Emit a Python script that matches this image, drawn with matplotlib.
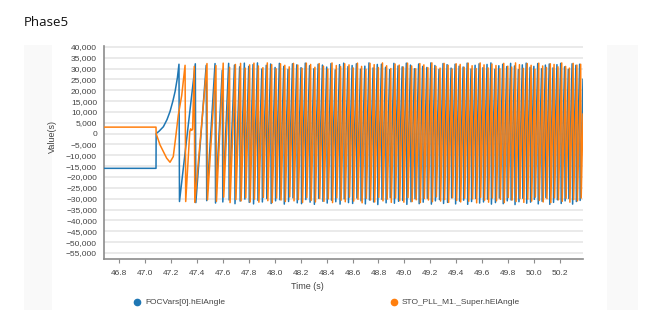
import matplotlib
matplotlib.use('Agg')
import matplotlib.pyplot as plt
from matplotlib.patches import Rectangle
from matplotlib.lines import Line2D
from matplotlib.ticker import FuncFormatter, MultipleLocator

# --- data (values in angle units, times in s) ---
series_names = ['FOCVars[0].hElAngle', 'STO_PLL_M1._Super.hElAngle']

# start-up part before the sawtooth settles
blue_start_t = [46.684, 47.085, 47.086, 47.110, 47.142, 47.170, 47.193, 47.215, 47.232, 47.250]
blue_start_v = [-16000, -16000, 0, 1200, 3200, 6500, 10200, 15000, 19400, 25800]
orange_start_t = [46.684, 47.085, 47.086, 47.116, 47.167, 47.193, 47.218, 47.235, 47.257, 47.283,
                  47.309, 47.314, 47.345, 47.352, 47.360, 47.367]
orange_start_v = [3000, 3000, 0, -5200, -11300, -13200, -10600, -2500, 8600, 17500,
                  31500, -31300, 800, 2200, 1500, 2000]

# wrap times (peak -> trough) of the electrical angle
blue_wrap_t = [
    47.262, 47.388, 47.472, 47.540, 47.596, 47.645, 47.690, 47.730, 47.766, 47.800,
    47.833, 47.867, 47.901, 47.935, 47.969, 48.003, 48.036, 48.070, 48.103, 48.137,
    48.170, 48.203, 48.236, 48.269, 48.302, 48.335, 48.368, 48.401, 48.434, 48.467,
    48.500, 48.532, 48.565, 48.597, 48.630, 48.662, 48.695, 48.727, 48.759, 48.791,
    48.823, 48.855, 48.887, 48.919, 48.951, 48.983, 49.015, 49.047, 49.078, 49.110,
    49.141, 49.173, 49.204, 49.235, 49.267, 49.298, 49.329, 49.360, 49.391, 49.422,
    49.453, 49.484, 49.514, 49.545, 49.576, 49.606, 49.637, 49.667, 49.698, 49.728,
    49.758, 49.789, 49.819, 49.849, 49.879, 49.909, 49.939, 49.969, 49.998, 50.028,
    50.058, 50.087, 50.117, 50.146, 50.176, 50.205, 50.235, 50.264, 50.293, 50.322,
    50.351]
blue_peak_k = [
    32.0, 32.2, 31.5, 32.3, 29.2, 32.4, 31.6, 30.8, 32.5, 31.0,
    31.8, 32.6, 29.8, 31.5, 32.1, 30.5, 32.4, 31.0, 29.6, 32.2,
    31.7, 30.4, 32.5, 31.3, 29.9, 32.0, 31.6, 30.7, 32.3, 29.4,
    31.8, 32.5, 30.9, 31.4, 32.2, 29.7, 31.1, 32.6, 30.3, 31.9,
    32.0, 30.6, 29.5, 32.4, 31.2, 30.8, 32.5, 31.6, 29.9, 32.1,
    31.0, 30.5, 32.6, 31.4, 29.6, 32.3, 31.8, 30.2, 32.0, 31.1,
    30.7, 32.5, 29.8, 31.5, 32.2, 30.4, 31.9, 32.6, 29.7, 31.3,
    32.0, 30.9, 32.4, 31.2, 29.5, 31.7, 32.5, 30.6, 31.0, 32.3,
    29.9, 31.6, 32.1, 30.3, 31.8, 32.4, 30.8, 29.6, 32.2, 31.5,
    32.0]
blue_trough_k = [
    -31.3, -31.8, -30.9, -32.0, -31.5, -30.6, -32.3, -31.1, -30.2, -31.7,
    -32.4, -30.8, -31.5, -29.9, -32.2, -31.0, -30.5, -32.5, -31.3, -29.6,
    -31.9, -32.3, -30.4, -31.6, -32.6, -29.8, -31.2, -32.0, -30.7, -31.4,
    -32.5, -30.1, -31.8, -32.2, -29.7, -31.0, -32.4, -30.6, -31.5, -32.7,
    -30.3, -31.9, -29.5, -32.1, -31.2, -30.8, -32.6, -31.4, -30.0, -32.3,
    -31.6, -29.8, -32.5, -31.0, -30.4, -32.2, -31.7, -29.6, -32.4, -31.1,
    -30.7, -32.6, -31.3, -29.9, -32.0, -31.5, -30.2, -32.5, -31.8, -29.7,
    -32.3, -31.0, -30.6, -32.7, -31.4, -29.8, -32.1, -31.6, -30.3, -32.4,
    -31.2, -29.5, -32.6, -31.7, -30.5, -32.2, -31.0, -29.9, -32.5, -31.3,
    -30.8]

orange_wrap_t = [
    47.380, 47.478, 47.547, 47.603, 47.652, 47.697, 47.737, 47.773, 47.807,
    47.840, 47.874, 47.909, 47.943, 47.977, 48.011, 48.045, 48.078, 48.112, 48.145,
    48.178, 48.211, 48.244, 48.277, 48.310, 48.343, 48.376, 48.409, 48.442, 48.475,
    48.508, 48.540, 48.573, 48.605, 48.638, 48.670, 48.703, 48.735, 48.767, 48.799,
    48.831, 48.863, 48.895, 48.928, 48.960, 48.992, 49.024, 49.056, 49.087, 49.119,
    49.150, 49.181, 49.212, 49.243, 49.275, 49.306, 49.337, 49.368, 49.399, 49.430,
    49.461, 49.492, 49.522, 49.553, 49.584, 49.614, 49.645, 49.675, 49.706, 49.736,
    49.766, 49.797, 49.827, 49.857, 49.887, 49.917, 49.947, 49.977, 50.006, 50.036,
    50.066, 50.095, 50.125, 50.154, 50.184, 50.213, 50.243, 50.272, 50.301, 50.330,
    50.359]
orange_peak_k = [
    31.0, 32.3, 31.4, 32.5, 30.6, 31.9, 32.4, 30.2, 31.7,
    32.5, 31.2, 30.4, 32.6, 31.8, 29.9, 32.2, 31.5, 30.8, 32.4,
    31.6, 30.1, 32.5, 31.9, 30.6, 32.3, 31.1, 29.8, 32.6, 31.4,
    30.9, 32.2, 31.7, 30.3, 32.5, 31.0, 29.7, 32.4, 31.8, 30.5,
    32.6, 31.3, 30.0, 32.1, 31.6, 30.7, 32.5, 31.2, 29.9, 32.3,
    31.7, 30.4, 32.6, 31.0, 30.2, 32.4, 31.5, 29.8, 32.2, 31.9,
    30.6, 32.5, 31.3, 30.0, 32.6, 31.7, 30.3, 32.1, 31.4, 29.9,
    32.4, 31.1, 30.7, 32.6, 31.8, 30.1, 32.3, 31.5, 29.7, 32.5,
    31.2, 30.5, 32.2, 31.9, 30.8, 32.6, 31.0, 30.2, 32.4, 31.6,
    32.0]
orange_trough_k = [
    -31.7, -30.5, -31.2, -29.3, -31.8, -30.4, -31.0, -29.6, -31.5,
    -30.2, -31.6, -29.4, -30.9, -31.8, -29.7, -30.6, -31.3, -29.2, -31.0,
    -30.4, -31.7, -29.5, -30.8, -31.5, -29.9, -31.2, -30.1, -31.8, -29.6,
    -30.7, -31.4, -29.3, -31.1, -30.3, -31.9, -29.8, -30.6, -31.5, -29.4,
    -31.0, -30.2, -31.7, -29.7, -30.9, -31.6, -29.5, -31.3, -30.5, -31.8,
    -29.9, -30.6, -31.4, -29.2, -31.1, -30.4, -31.7, -29.6, -30.8, -31.5,
    -29.8, -31.2, -30.1, -31.9, -29.4, -30.7, -31.6, -29.7, -31.0, -30.3,
    -31.8, -29.5, -30.6, -31.3, -29.9, -31.7, -30.2, -31.1, -29.3, -30.8,
    -31.5, -30.0, -31.8, -29.6, -30.5, -31.2, -29.8, -31.6, -30.4, -31.0,
    -29.7]

end_t = 50.377
blue_end_v = 25000
orange_end_v = 9000

x_ticks = [46.8, 47.0, 47.2, 47.4, 47.6, 47.8, 48.0, 48.2, 48.4, 48.6, 48.8,
           49.0, 49.2, 49.4, 49.6, 49.8, 50.0, 50.2]

BLUE = '#1f77b4'
ORANGE = '#ff7f0e'
DROP = 0.004  # one sample for the wrap


def build(start_t, start_v, wraps, peaks, troughs, last_v):
    t = list(start_t)
    v = list(start_v)
    for w, p, q in zip(wraps, peaks, troughs):
        t += [w, w + DROP]
        v += [p * 1000, q * 1000]
    t.append(end_t)
    v.append(last_v)
    return t, v


blue_t, blue_v = build(blue_start_t, blue_start_v, blue_wrap_t, blue_peak_k, blue_trough_k, blue_end_v)
orange_t, orange_v = build(orange_start_t, orange_start_v, orange_wrap_t, orange_peak_k, orange_trough_k, orange_end_v)

plt.rcParams['font.family'] = ['Liberation Sans', 'DejaVu Sans']

fig = plt.figure(figsize=(6.67, 3.2), dpi=100)
fig.patch.set_facecolor('white')

# faint side panels of the dashboard
fig.add_artist(Rectangle((24 / 667, 1 - 310 / 320), 28 / 667, 265 / 320,
                         transform=fig.transFigure, facecolor='#f9f9f9', edgecolor='none', zorder=0))
fig.add_artist(Rectangle((607 / 667, 1 - 310 / 320), 31 / 667, 265 / 320,
                         transform=fig.transFigure, facecolor='#f9f9f9', edgecolor='none', zorder=0))

fig.text(24 / 667, 1 - 22 / 320, 'Phase5', fontsize=9.5, family=['Open Sans', 'DejaVu Sans'],
         color='#111111', ha='left', va='center')

ax = fig.add_axes([104 / 667, 1 - 259 / 320, 479 / 667, 213 / 320])
ax.plot(blue_t, blue_v, color=BLUE, lw=1.1, zorder=3)
ax.plot(orange_t, orange_v, color=ORANGE, lw=1.1, zorder=4)

ax.set_xlim(46.684, 50.377)
ax.set_ylim(-57800, 40400)
ax.yaxis.set_major_locator(MultipleLocator(5000))
ax.yaxis.set_major_formatter(FuncFormatter(lambda v, p: '{:,.0f}'.format(v).replace('-', '\u2212')))
ax.set_xticks(x_ticks)
ax.set_xticklabels(['%.1f' % x for x in x_ticks])

ax.grid(axis='y', color='#e6e6e6', lw=1.2, zorder=0)
ax.set_axisbelow(True)
for s in ['top', 'right']:
    ax.spines[s].set_visible(False)
for s in ['left', 'bottom']:
    ax.spines[s].set_color('#8c8c8c')
    ax.spines[s].set_linewidth(1.2)

ax.tick_params(axis='y', length=0, pad=5, labelsize=6, labelcolor='#444444')
ax.tick_params(axis='x', length=3, width=0.8, color='#8c8c8c', pad=5, labelsize=6, labelcolor='#444444')

ax.set_ylabel('Value(s)', fontsize=6.5, color='#444444')
ax.yaxis.set_label_coords(-0.098, 0.575)
ax.set_xlabel('Time (s)', fontsize=6.5, color='#444444')
ax.xaxis.set_label_coords(0.424, -0.11)

# legend
for x0, col, name in [(137, BLUE, series_names[0]), (394, ORANGE, series_names[1])]:
    fig.add_artist(Line2D([x0 / 667], [1 - 302 / 320], marker='o', markersize=4.5, color=col,
                          linestyle='none', transform=fig.transFigure))
    fig.text((x0 + 8) / 667, 1 - 302 / 320, name, fontsize=6, color='#444444', ha='left', va='center')

fig.savefig('out.png', dpi=100)
